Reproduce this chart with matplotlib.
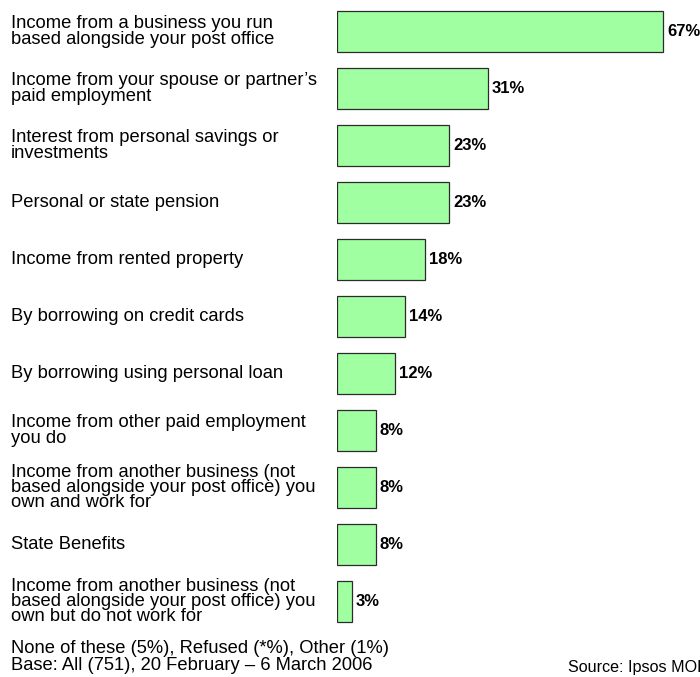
import matplotlib
matplotlib.use('Agg')
import matplotlib.pyplot as plt

# ── survey data ───────────────────────────────────────────────
categories = [
    "Income from a business you run\nbased alongside your post office",
    "Income from your spouse or partner\u2019s\npaid employment",
    "Interest from personal savings or\ninvestments",
    "Personal or state pension",
    "Income from rented property",
    "By borrowing on credit cards",
    "By borrowing using personal loan",
    "Income from other paid employment\nyou do",
    "Income from another business (not\nbased alongside your post office) you\nown and work for",
    "State Benefits",
    "Income from another business (not\nbased alongside your post office) you\nown but do not work for",
]
values = [67, 31, 23, 23, 18, 14, 12, 8, 8, 8, 3]

footnote_lines = ["None of these (5%), Refused (*%), Other (1%)",
                  "Base: All (751), 20 February \u2013 6 March 2006"]
source = "Source: Ipsos MORI"

plt.rcParams['font.family'] = ['Liberation Sans', 'DejaVu Sans']

W, H = 700, 677
fig = plt.figure(figsize=(W / 100, H / 100), dpi=100)

# axes covers the bar area; x scale ~4.87 px per percent
px_per_pct = 4.866
ax_left, ax_top, ax_bottom = 337, 0, 630
ax = fig.add_axes([ax_left / W, 1 - ax_bottom / H, (W - ax_left) / W, (ax_bottom - ax_top) / H])
ax.set_xlim(0, (W - ax_left) / px_per_pct)
pitch = 57.0
first_center = 31.5
ax.set_ylim((ax_bottom - first_center) / pitch, -(first_center - ax_top) / pitch)
ax.axis('off')

ypos = list(range(len(values)))
ax.barh(ypos, values, height=0.72, color='#a0ffa0', edgecolor='#2b2b2b', linewidth=0.9)

for y, v, lab in zip(ypos, values, categories):
    ax.annotate(f"{v}%", (v, y), xytext=(4, 0), textcoords='offset pixels',
                ha='left', va='center', fontsize=12, fontweight='bold',
                annotation_clip=False)
    ax.annotate(lab, (0, y), xycoords=('figure fraction', 'data'),
                xytext=(11, 0), textcoords='offset pixels',
                ha='left', va='center', fontsize=13.2, linespacing=0.86)

# footer lines, baselines in pixels from the top
for line, base in zip(footnote_lines, [653, 670]):
    fig.text(11 / W, 1 - base / H, line, ha='left', va='baseline', fontsize=13.2)
fig.text(568 / W, 1 - 672 / H, source, ha='left', va='baseline', fontsize=11.6)

fig.savefig('out.png', dpi=100)
